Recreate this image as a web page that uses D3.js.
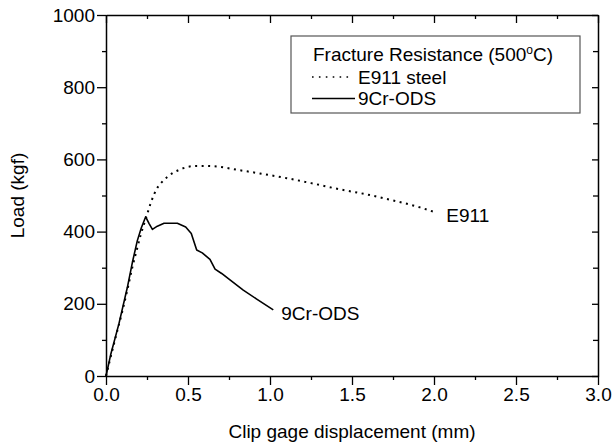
<!DOCTYPE html>
<html>
<head>
<meta charset="utf-8">
<script src="https://cdn.jsdelivr.net/npm/d3@7"></script>
<style>
  html, body { margin: 0; padding: 0; background: #fff; }
  svg { display: block; font-family: "Liberation Sans", Arial, sans-serif; }
</style>
</head>
<body>
<svg id="chart" width="614" height="445"></svg>
<script>
// ---- Data ----
const e911X = [0, 0.012, 0.038, 0.069, 0.10, 0.13, 0.16, 0.191, 0.211, 0.24, 0.258, 0.272, 0.309, 0.335, 0.37, 0.41, 0.451, 0.496, 0.553, 0.593, 0.654, 0.715, 0.776, 0.939, 1.102, 1.264, 1.427, 1.59, 1.752, 1.915, 1.996];
const e911Y = [0, 22, 70, 125, 180, 238, 300, 355, 390, 432, 458, 478, 518, 534, 550, 563, 572, 579, 582, 582, 581, 578, 573, 561, 548, 533, 517, 503, 486, 467, 455];

const odsX = [0, 0.028, 0.079, 0.130, 0.161, 0.191, 0.215, 0.242, 0.262, 0.283, 0.313, 0.354, 0.435, 0.486, 0.520, 0.553, 0.587, 0.634, 0.665, 0.705, 0.756, 0.837, 0.919, 1.020];
const odsY = [0, 58, 145, 245, 315, 375, 410, 441, 423, 406, 415, 423, 423, 413, 395, 349, 341, 323, 296, 284, 266, 238, 213, 183];

const xTicks = [0, 0.5, 1.0, 1.5, 2.0, 2.5, 3.0];
const xMinor = [0.25, 0.75, 1.25, 1.75, 2.25, 2.75];
const yTicks = [0, 200, 400, 600, 800, 1000];
const yMinor = [100, 300, 500, 700, 900];

const legendTitle = "Fracture Resistance (500";
const legendNames = ["E911 steel", "9Cr-ODS"];
const curveLabels = ["E911", "9Cr-ODS"];
const xTitle = "Clip gage displacement (mm)";
const yTitle = "Load (kgf)";

// ---- Layout ----
const L = 106, R = 598, T = 15, B = 376;
const FS = 19;
const svg = d3.select("#chart");

const x = d3.scaleLinear().domain([0, 3]).range([L, R]);
const y = d3.scaleLinear().domain([0, 1000]).range([B, T]);

// Bottom axis (ticks outward)
const gB = svg.append("g").attr("transform", `translate(0,${B})`);
gB.call(d3.axisBottom(x).tickValues(xTicks).tickFormat(d3.format(".1f")).tickSizeInner(9).tickSizeOuter(0).tickPadding(3));
gB.append("g").call(d3.axisBottom(x).tickValues(xMinor).tickFormat("").tickSizeInner(4).tickSizeOuter(0))
  .select(".domain").remove();

// Top axis (ticks inward)
const gT = svg.append("g").attr("transform", `translate(0,${T})`);
gT.call(d3.axisTop(x).tickValues(xTicks).tickFormat("").tickSizeInner(-8).tickSizeOuter(0));
gT.append("g").call(d3.axisTop(x).tickValues(xMinor).tickFormat("").tickSizeInner(-4).tickSizeOuter(0))
  .select(".domain").remove();

// Left axis (ticks outward)
const gL = svg.append("g").attr("transform", `translate(${L},0)`);
gL.call(d3.axisLeft(y).tickValues(yTicks).tickFormat(d3.format("d")).tickSizeInner(9).tickSizeOuter(0).tickPadding(2));
gL.append("g").call(d3.axisLeft(y).tickValues(yMinor).tickFormat("").tickSizeInner(4).tickSizeOuter(0))
  .select(".domain").remove();

// Right axis (ticks inward)
const gR = svg.append("g").attr("transform", `translate(${R},0)`);
gR.call(d3.axisRight(y).tickValues(yTicks).tickFormat("").tickSizeInner(-6).tickSizeOuter(0));
gR.append("g").call(d3.axisRight(y).tickValues(yMinor).tickFormat("").tickSizeInner(-5).tickSizeOuter(0))
  .select(".domain").remove();

svg.selectAll(".domain").attr("stroke", "#000").attr("stroke-width", 1.5);
svg.selectAll(".tick line").attr("stroke", "#000").attr("stroke-width", 1.3);
svg.selectAll(".tick text").attr("font-size", FS).attr("fill", "#000")
  .attr("font-family", "'Liberation Sans', Arial, sans-serif");

// Axis titles
svg.append("text").attr("x", (L + R) / 2).attr("y", 438).attr("text-anchor", "middle")
  .attr("font-size", FS).text(xTitle);
svg.append("text").attr("transform", `translate(24,${(T + B) / 2}) rotate(-90)`)
  .attr("text-anchor", "middle").attr("font-size", FS).text(yTitle);

// Lines
const line = d3.line().x(d => x(d[0])).y(d => y(d[1]));
const e911 = e911X.map((v, i) => [v, e911Y[i]]);
const ods = odsX.map((v, i) => [v, odsY[i]]);

svg.append("path").datum(e911).attr("d", line.curve(d3.curveMonotoneX))
  .attr("fill", "none").attr("stroke", "#000").attr("stroke-width", 2)
  .attr("stroke-dasharray", "2,4.5");
svg.append("path").datum(ods).attr("d", line.curve(d3.curveLinear))
  .attr("fill", "none").attr("stroke", "#000").attr("stroke-width", 1.6)
  .attr("stroke-linejoin", "round");

// Curve labels
const e911End = e911[e911.length - 1];
const odsEnd = ods[ods.length - 1];
svg.append("text").attr("x", x(e911End[0]) + 13).attr("y", y(e911End[1]) + 10)
  .attr("font-size", FS).text(curveLabels[0]);
svg.append("text").attr("x", x(odsEnd[0]) + 8).attr("y", y(odsEnd[1]) + 10)
  .attr("font-size", FS).text(curveLabels[1]);

// Legend
const lg = svg.append("g");
lg.append("rect").attr("x", 291).attr("y", 36).attr("width", 289).attr("height", 77)
  .attr("fill", "#fff").attr("stroke", "#555").attr("stroke-width", 1.2);
const tt = lg.append("text").attr("x", 313).attr("y", 61).attr("font-size", FS);
tt.append("tspan").text(legendTitle);
tt.append("tspan").attr("font-size", 12).attr("dy", -7).text("o");
tt.append("tspan").attr("dy", 7).text("C)");

lg.append("line").attr("x1", 312).attr("x2", 353).attr("y1", 77).attr("y2", 77)
  .attr("stroke", "#000").attr("stroke-width", 1.6).attr("stroke-dasharray", "1.6,5.3");
lg.append("text").attr("x", 358).attr("y", 84).attr("font-size", FS).text(legendNames[0]);
lg.append("line").attr("x1", 312).attr("x2", 355).attr("y1", 98.5).attr("y2", 98.5)
  .attr("stroke", "#000").attr("stroke-width", 1.4);
lg.append("text").attr("x", 358).attr("y", 105).attr("font-size", FS).text(legendNames[1]);
</script>
</body>
</html>
